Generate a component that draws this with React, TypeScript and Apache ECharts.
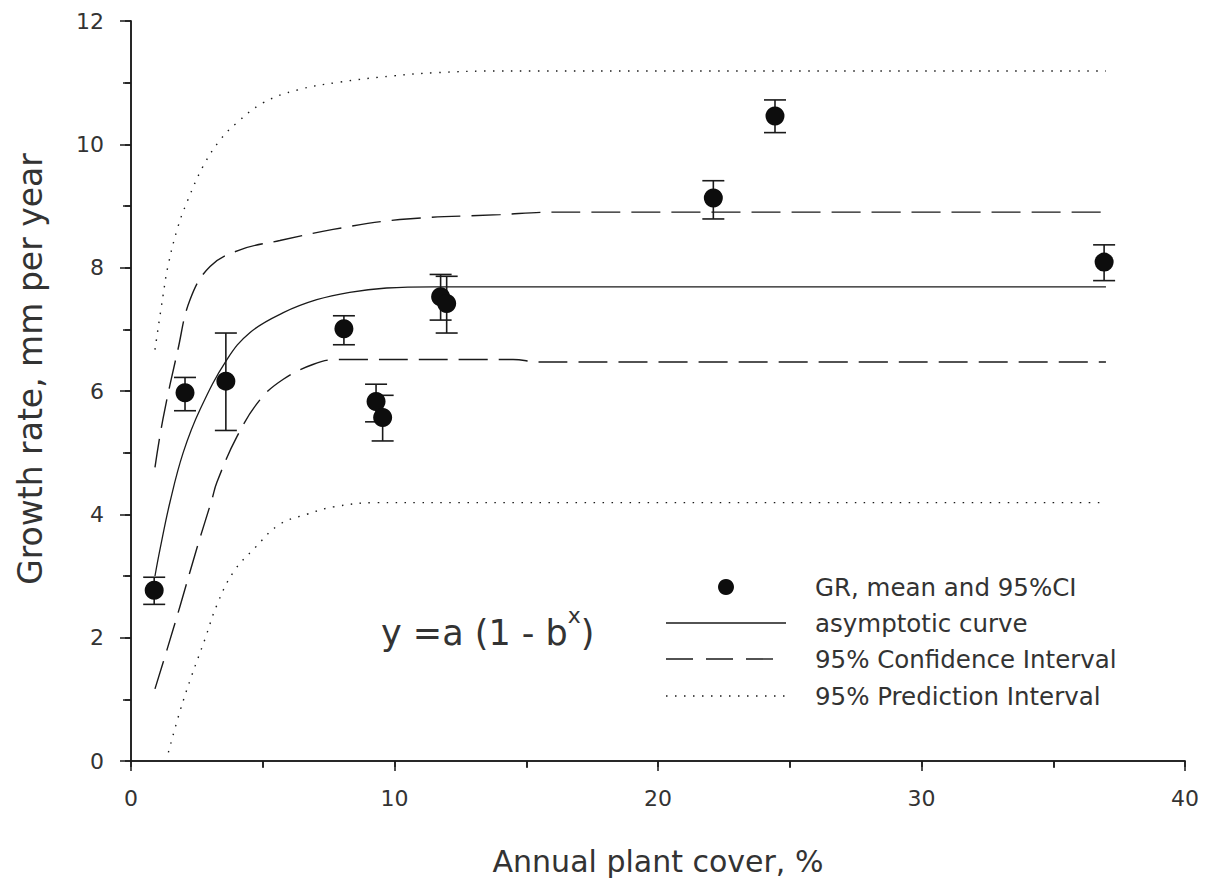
import React, { useEffect, useRef } from "react";
import * as echarts from "echarts";

// Observations: annual plant cover (%) and growth rate (mm/yr) with 95% CI
const pointX = [0.88, 2.05, 3.6, 8.08, 9.3, 9.55, 11.75, 11.98, 22.1, 24.44, 36.93];
const pointY = [2.77, 5.97, 6.16, 7.01, 5.83, 5.57, 7.53, 7.42, 9.13, 10.46, 8.09];
const ciLow = [2.54, 5.68, 5.36, 6.75, 5.5, 5.19, 7.15, 6.94, 8.79, 10.19, 7.79];
const ciHigh = [2.98, 6.22, 6.94, 7.22, 6.11, 5.93, 7.89, 7.86, 9.41, 10.72, 8.37];

// Fitted asymptotic curve
const fitX = [0.91, 1.1, 1.48, 1.98, 2.62, 3.64, 4.52, 5.78, 7.05, 8.3, 9.7, 11.5, 37];
const fitY = [3.0, 3.43, 4.2, 5.0, 5.7, 6.51, 6.95, 7.27, 7.48, 7.6, 7.67, 7.69, 7.69];

// 95% confidence interval
const ciUpX = [0.91, 1.21, 1.78, 2.24, 3.0, 4.14, 5.65, 7.67, 10.2, 14.0, 16, 37];
const ciUpY = [4.76, 5.54, 6.67, 7.48, 8.02, 8.29, 8.44, 8.62, 8.78, 8.86, 8.9, 8.9];
const ciLoX = [0.91, 1.37, 1.86, 2.5, 3.07, 3.26, 4.02, 4.9, 5.78, 6.9, 7.82, 14.5, 15.5, 37];
const ciLoY = [1.17, 1.81, 2.51, 3.45, 4.24, 4.52, 5.26, 5.86, 6.19, 6.43, 6.51, 6.51, 6.47, 6.47];

// 95% prediction interval
const piUpX = [0.91, 1.21, 1.4, 1.78, 2.16, 2.73, 3.38, 4.02, 5.0, 6.3, 7.93, 9.94, 11.46, 14, 37];
const piUpY = [6.67, 7.53, 8.02, 8.66, 9.1, 9.64, 10.07, 10.35, 10.67, 10.88, 11.01, 11.11, 11.16, 11.19, 11.19];
const piLoX = [1.42, 1.86, 2.3, 2.81, 3.25, 3.88, 4.71, 5.65, 6.67, 7.68, 9.32, 11, 37];
const piLoY = [0.14, 0.81, 1.38, 1.98, 2.52, 3.06, 3.46, 3.84, 4.0, 4.12, 4.19, 4.19, 4.19];

const legendLabels = [
  "GR, mean and 95%CI",
  "asymptotic curve",
  "95% Confidence Interval",
  "95% Prediction Interval",
];

const FONT = "DejaVu Sans";
const INK = "#1a1a1a";
const TXT = "#333";

const zip = (xs: number[], ys: number[]) => xs.map((x, i) => [x, ys[i]]);

export default function App() {
  const ref = useRef<HTMLDivElement>(null);
  useEffect(() => {
    if (!ref.current) return;
    const chart = echarts.init(ref.current, null, { renderer: "svg" });
    const lineSeries = (data: number[][], type: any, width = 1.3) => ({
      type: "line",
      data,
      showSymbol: false,
      symbol: "none",
      smooth: 0.4,
      silent: true,
      lineStyle: { color: INK, width, type },
      z: 2,
    });
    const legendY = [587, 623, 659, 696];
    chart.setOption({
      animation: false,
      backgroundColor: "#fff",
      textStyle: { fontFamily: FONT },
      grid: { left: 131, right: 23, top: 21, bottom: 119, containLabel: false },
      xAxis: [
        {
          type: "value",
          min: 0,
          max: 40,
          interval: 10,
          position: "bottom",
          name: "Annual plant cover, %",
          nameLocation: "middle",
          nameGap: 85,
          nameTextStyle: { fontSize: 30, color: TXT, fontFamily: FONT },
          axisLine: { show: true, lineStyle: { color: INK, width: 1.5 } },
          axisTick: { show: true, inside: false, length: 10, lineStyle: { color: INK, width: 1.5 } },
          minorTick: { show: true, splitNumber: 2, length: 7, lineStyle: { color: INK, width: 1.5 } },
          axisLabel: { fontSize: 22, color: TXT, margin: 26, fontFamily: FONT },
          splitLine: { show: false },
        },
        {
          type: "value",
          min: 0,
          max: 40,
          interval: 10,
          position: "top",
          axisLine: { show: true, lineStyle: { color: INK, width: 1.5 } },
          axisTick: { show: true, inside: true, length: 6, lineStyle: { color: INK, width: 1.5 } },
          minorTick: { show: true, splitNumber: 2, length: 6, lineStyle: { color: INK, width: 1.5 } },
          axisLabel: { show: false },
          splitLine: { show: false },
        },
      ],
      yAxis: [
        {
          type: "value",
          min: 0,
          max: 12,
          interval: 2,
          position: "left",
          axisLine: { show: true, lineStyle: { color: INK, width: 1.5 } },
          axisTick: { show: true, inside: false, length: 11, lineStyle: { color: INK, width: 1.5 } },
          minorTick: { show: true, splitNumber: 2, length: 8, lineStyle: { color: INK, width: 1.5 } },
          axisLabel: { fontSize: 22, color: TXT, margin: 27, fontFamily: FONT },
          splitLine: { show: false },
        },
        {
          type: "value",
          min: 0,
          max: 12,
          interval: 2,
          position: "right",
          axisLine: { show: true, lineStyle: { color: INK, width: 1.5 } },
          axisTick: { show: true, inside: true, length: 6, lineStyle: { color: INK, width: 1.5 } },
          minorTick: { show: true, splitNumber: 2, length: 6, lineStyle: { color: INK, width: 1.5 } },
          axisLabel: { show: false },
          splitLine: { show: false },
        },
      ],
      series: [
        lineSeries(zip(piUpX, piUpY), [1.5, 7.5], 1.4),
        lineSeries(zip(piLoX, piLoY), [1.5, 7.5], 1.4),
        lineSeries(zip(ciUpX, ciUpY), [29, 11], 1.4),
        lineSeries(zip(ciLoX, ciLoY), [29, 11], 1.4),
        lineSeries(zip(fitX, fitY), "solid", 1.3),
        {
          type: "custom",
          silent: true,
          z: 3,
          data: pointX.map((x, i) => [x, ciLow[i], ciHigh[i]]),
          renderItem: (params: any, api: any) => {
            const x = api.value(0);
            const lo = api.coord([x, api.value(1)]);
            const hi = api.coord([x, api.value(2)]);
            const w = 11;
            const style = { stroke: INK, lineWidth: 1.6 };
            return {
              type: "group",
              children: [
                { type: "line", shape: { x1: lo[0], y1: lo[1], x2: hi[0], y2: hi[1] }, style },
                { type: "line", shape: { x1: lo[0] - w, y1: lo[1], x2: lo[0] + w, y2: lo[1] }, style },
                { type: "line", shape: { x1: hi[0] - w, y1: hi[1], x2: hi[0] + w, y2: hi[1] }, style },
              ],
            };
          },
        },
        {
          type: "scatter",
          data: zip(pointX, pointY),
          symbol: "circle",
          symbolSize: 19,
          itemStyle: { color: "#0d0d0d", opacity: 1 },
          silent: true,
          z: 4,
        },
      ],
      graphic: [
        {
          type: "text",
          x: 30,
          y: 369,
          rotation: Math.PI / 2,
          style: {
            text: "Growth rate, mm per year",
            fontSize: 33,
            fontFamily: FONT,
            fill: TXT,
            align: "center",
            verticalAlign: "middle",
          },
        },
        {
          type: "text",
          left: 381,
          top: 604,
          style: {
            text: "{m|y =a (1 - b}{s|x}{m|)}",
            rich: {
              m: { fontSize: 35, fontFamily: FONT, fill: TXT, verticalAlign: "bottom", lineHeight: 46 },
              s: { fontSize: 22, fontFamily: FONT, fill: TXT, verticalAlign: "top", lineHeight: 46 },
            },
          },
        },
        { type: "circle", shape: { cx: 726, cy: legendY[0], r: 8 }, style: { fill: "#0d0d0d" } },
        { type: "line", shape: { x1: 666, y1: legendY[1], x2: 786, y2: legendY[1] }, style: { stroke: INK, lineWidth: 1.4 } },
        { type: "line", shape: { x1: 666, y1: legendY[2], x2: 786, y2: legendY[2] }, style: { stroke: INK, lineWidth: 1.4, lineDash: [27, 13] } },
        { type: "line", shape: { x1: 666, y1: legendY[3], x2: 786, y2: legendY[3] }, style: { stroke: INK, lineWidth: 1.4, lineDash: [1.5, 7.5] } },
        ...legendLabels.map((t, i) => ({
          type: "text",
          x: 815,
          y: legendY[i],
          style: { text: t, fontSize: 24.5, fontFamily: FONT, fill: TXT, verticalAlign: "middle", align: "left" },
        })),
      ],
    });
    return () => chart.dispose();
  }, []);
  return (
    <div
      ref={ref}
      style={{ position: "fixed", left: 0, top: 0, width: 1208, height: 881, background: "#fff" }}
    />
  );
}
